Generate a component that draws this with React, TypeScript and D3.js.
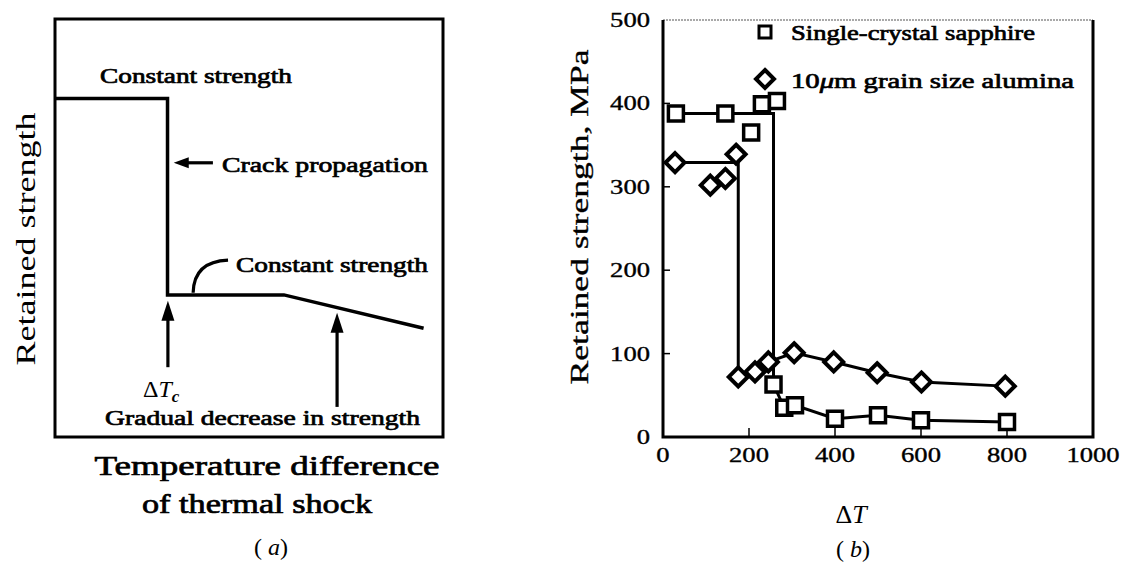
import React from "react";
import * as d3 from "d3";

// ---------- Panel (b) data ----------
const xTicks = [0, 200, 400, 600, 800, 1000];
const yTicks = [0, 100, 200, 300, 400, 500];

const sapphireT = [30, 145, 205, 230, 265, 257, 282, 307, 400, 500, 600, 800];
const sapphireS = [388, 388, 365, 399, 403, 63, 35, 38, 22, 26, 20, 18];
const aluminaT = [28, 110, 145, 170, 175, 214, 245, 305, 397, 498, 601, 796];
const aluminaS = [329, 302, 310, 339, 72, 78, 90, 101, 90, 77, 66, 61];

// fitted guide lines drawn through the data
const sapphireFitT = [30, 257, 257, 282, 307, 400, 500, 600, 800];
const sapphireFitS = [388, 388, 63, 35, 38, 22, 26, 20, 18];
const aluminaFitT = [28, 175, 175, 214, 245, 305, 397, 498, 601, 796];
const aluminaFitS = [329, 329, 72, 78, 90, 101, 90, 77, 66, 61];

const legendLabels = ["Single-crystal sapphire", "10μm grain size alumina"];

// ---------- Panel (a) schematic (arbitrary units 0-100) ----------
const schemX = [0, 29, 29, 59, 95];
const schemY = [81, 81, 34, 34, 26];

const FONT = "Liberation Serif, Times New Roman, Times, DejaVu Serif, serif";

export default function App() {
  const ax = d3.scaleLinear([0, 100], [55, 443]);
  const ay = d3.scaleLinear([0, 100], [437, 19]);
  const bx = d3.scaleLinear([0, 1000], [663, 1093]);
  const by = d3.scaleLinear([0, 500], [437, 20]);

  const schemPath =
    d3
      .line<number>()
      .x((d, i) => ax(schemX[i]))
      .y((d, i) => ay(schemY[i]))(schemX) || "";

  const fitLine = (ts: number[], ss: number[]) =>
    d3
      .line<number>()
      .x((d, i) => bx(ts[i]))
      .y((d, i) => by(ss[i]))(ts) || "";

  const sq = 15;
  const dm = 9.5;

  const squarePath = (cx: number, cy: number, s: number) =>
    `M${cx - s / 2},${cy - s / 2}h${s}v${s}h${-s}Z`;
  const diamondPath = (cx: number, cy: number, r: number) =>
    `M${cx},${cy - r}L${cx + r},${cy}L${cx},${cy + r}L${cx - r},${cy}Z`;

  const arrowH = (x0: number, x1: number, y: number) => {
    const tx = ax(x1), ty = ay(y), sx = ax(x0);
    return (
      <g>
        <line x1={sx} y1={ty} x2={tx + 12} y2={ty} stroke="#000" strokeWidth={3.2} />
        <path d={`M${tx},${ty}L${tx + 15},${ty - 5.5}L${tx + 15},${ty + 5.5}Z`} fill="#000" />
      </g>
    );
  };
  const arrowV = (x: number, y0: number, y1: number) => {
    const px = ax(x), ty = ay(y1), sy = ay(y0);
    return (
      <g>
        <line x1={px} y1={sy} x2={px} y2={ty + 16} stroke="#000" strokeWidth={3.2} />
        <path d={`M${px},${ty}L${px + 6.5},${ty + 20}L${px - 6.5},${ty + 20}Z`} fill="#000" />
      </g>
    );
  };

  const la = { lengthAdjust: "spacingAndGlyphs" as const };
  const heavy = { stroke: "#000", strokeWidth: 0.7 };
  const medium = { stroke: "#000", strokeWidth: 0.35 };

  return (
    <svg
      width={1128}
      height={571}
      style={{ position: "absolute", left: 0, top: 0, background: "#fff", fontFamily: FONT }}
    >
      <rect x={0} y={0} width={1128} height={571} fill="#fff" />

      {/* ================= Panel (a) ================= */}
      <rect x={ax(0)} y={ay(100)} width={ax(100) - ax(0)} height={ay(0) - ay(100)} fill="none" stroke="#000" strokeWidth={3} />
      <path d={schemPath} fill="none" stroke="#000" strokeWidth={3.5} />

      {arrowH(40.7, 30.6, 65.6)}
      {arrowV(29.1, 16.7, 32.6)}
      {arrowV(72.7, 7.2, 29.7)}
      <path
        d={`M${ax(35.6)},${ay(34.5)}Q${ax(35.8)},${ay(42)} ${ax(44.6)},${ay(42.3)}`}
        fill="none"
        stroke="#000"
        strokeWidth={3.2}
      />

      <text x={100} y={83} fontSize={21} {...heavy} textLength={192} {...la}>Constant strength</text>
      <text x={222} y={172} fontSize={21} {...heavy} textLength={206} {...la}>Crack propagation</text>
      <text x={236} y={272} fontSize={21} {...heavy} textLength={192} {...la}>Constant strength</text>
      <text x={143} y={397} fontSize={24}>
        <tspan>Δ</tspan>
        <tspan fontStyle="italic">T</tspan>
        <tspan fontStyle="italic" fontWeight="bold" fontSize={17} dy={5}>c</tspan>
      </text>
      <text x={105} y={425} fontSize={21} {...heavy} textLength={315} {...la}>Gradual decrease in strength</text>

      <text transform="translate(35,239) rotate(-90)" textAnchor="middle" fontSize={27} textLength={253} {...la}>Retained strength</text>

      <text x={267} y={475} textAnchor="middle" fontSize={27} {...heavy} textLength={345} {...la}>Temperature difference</text>
      <text x={257} y={513} textAnchor="middle" fontSize={27} {...heavy} textLength={230} {...la}>of thermal shock</text>
      <text x={271} y={555} textAnchor="middle" fontSize={24}>
        ( <tspan fontStyle="italic">a</tspan>)
      </text>

      {/* ================= Panel (b) ================= */}
      <line x1={bx(0)} y1={by(500)} x2={bx(1000)} y2={by(500)} stroke="#555" strokeWidth={1.2} strokeDasharray="2,1" />
      <path d={`M${bx(0)},${by(500)}V${by(0)}H${bx(1000)}V${by(500)}`} fill="none" stroke="#000" strokeWidth={3} />

      {yTicks.filter((t) => t > 0 && t < 500).map((t) => (
        <line key={"yt" + t} x1={bx(0)} y1={by(t)} x2={bx(0) + 7} y2={by(t)} stroke="#000" strokeWidth={1.5} />
      ))}
      {xTicks.filter((t) => t > 0 && t < 1000).map((t) => (
        <line key={"xt" + t} x1={bx(t)} y1={by(0)} x2={bx(t)} y2={by(0) - 9} stroke="#000" strokeWidth={1.5} />
      ))}

      {yTicks.map((t) => (
        <text key={"yl" + t} x={bx(0) - 13} y={by(t) + 7} textAnchor="end" fontSize={20} {...medium}
          textLength={String(t).length * 13.3} {...la}>
          {t}
        </text>
      ))}
      {xTicks.map((t) => (
        <text key={"xl" + t} x={bx(t)} y={462} textAnchor="middle" fontSize={20} {...medium}
          textLength={String(t).length * 13.3} {...la}>
          {t}
        </text>
      ))}

      <text transform="translate(588,217) rotate(-90)" textAnchor="middle" fontSize={25} {...medium} textLength={335} {...la}>
        Retained strength, MPa
      </text>

      <text x={851} y={523} textAnchor="middle" fontSize={26}>
        <tspan>Δ</tspan>
        <tspan fontStyle="italic">T</tspan>
      </text>
      <text x={853} y={557} textAnchor="middle" fontSize={24}>
        ( <tspan fontStyle="italic">b</tspan>)
      </text>

      <path d={fitLine(sapphireFitT, sapphireFitS)} fill="none" stroke="#000" strokeWidth={3} />
      <path d={fitLine(aluminaFitT, aluminaFitS)} fill="none" stroke="#000" strokeWidth={3} />

      {aluminaT.map((t, i) => (
        <path key={"a" + i} d={diamondPath(bx(t), by(aluminaS[i]), dm)} fill="#fff" stroke="#000" strokeWidth={4} />
      ))}
      {sapphireT.map((t, i) => (
        <path key={"s" + i} d={squarePath(bx(t), by(sapphireS[i]), sq)} fill="#fff" stroke="#000" strokeWidth={3.5} />
      ))}

      <path d={squarePath(765, 32, 12)} fill="#fff" stroke="#000" strokeWidth={3} />
      <text x={791} y={40} fontSize={22} {...heavy} textLength={244} {...la}>
        {legendLabels[0]}
      </text>
      <path d={diamondPath(765, 79, 9)} fill="#fff" stroke="#000" strokeWidth={4} />
      <text x={791} y={88} fontSize={22} {...heavy} textLength={283} {...la}>
        10<tspan fontStyle="italic">μ</tspan>m grain size alumina
      </text>
    </svg>
  );
}
